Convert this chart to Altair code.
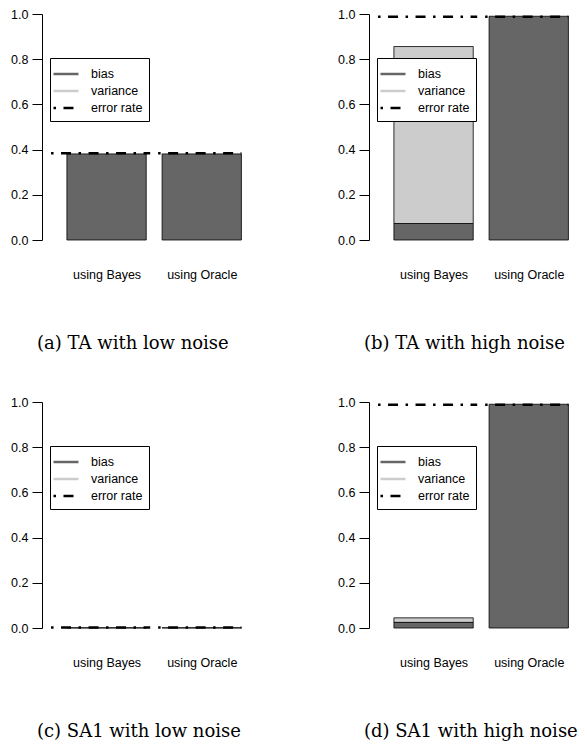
import altair as alt
import pandas as pd

# ---------------- data ----------------
methods = ["using Bayes", "using Oracle"]
panel_keys = ["a", "b", "c", "d"]
captions = ["(a) TA with low noise", "(b) TA with high noise",
            "(c) SA1 with low noise", "(d) SA1 with high noise"]

bias_a = [0.381, 0.381]
variance_a = [0.0, 0.0]
error_a = [0.384, 0.384]

bias_b = [0.073, 0.990]
variance_b = [0.783, 0.0]
error_b = [0.988, 0.988]

bias_c = [0.001, 0.001]
variance_c = [0.0, 0.0]
error_c = [0.002, 0.002]

bias_d = [0.025, 0.990]
variance_d = [0.020, 0.0]
error_d = [0.988, 0.988]

components = ["bias", "variance"]
series = ["bias", "variance", "error rate"]

biases = dict(zip(panel_keys, [bias_a, bias_b, bias_c, bias_d]))
variances = dict(zip(panel_keys, [variance_a, variance_b, variance_c, variance_d]))
errors = dict(zip(panel_keys, [error_a, error_b, error_c, error_d]))

# ---------------- barplot layout (R style: width 1, space 0.2) ----------------
BAR_W, SPACE = 1.0, 0.2

bar_rows, err_rows = [], []
for key in panel_keys:
    for i, m in enumerate(methods):
        left = SPACE + i * (BAR_W + SPACE)
        right = left + BAR_W
        b, v, e = biases[key][i], variances[key][i], errors[key][i]
        bar_rows.append(dict(panel=key, method=m, component="bias",
                             x0=left, x1=right, y0=0.0, y1=b))
        if v > 0:
            bar_rows.append(dict(panel=key, method=m, component="variance",
                                 x0=left, x1=right, y0=b, y1=b + v))
        xs = left - SPACE if i == 0 else left - 0.05
        xe = right + 0.05 if i == 0 else right
        err_rows.append(dict(panel=key, method=m, series="error rate",
                             xs=xs, xe=xe, err=e))

bars_df = pd.DataFrame(bar_rows)
err_df = pd.DataFrame(err_rows)

centers = [SPACE + i * (BAR_W + SPACE) + BAR_W / 2 for i in range(len(methods))]
label_expr = f"datum.value < {(centers[0] + centers[1]) / 2} ? '{methods[0]}' : '{methods[1]}'"

SANS = "Liberation Sans"
SERIF = "DejaVu Serif"

xscale = alt.Scale(domain=[-0.114, 2.42], nice=False, zero=False)
yscale = alt.Scale(domain=[0, 1], nice=False)

xaxis = alt.Axis(values=centers, labelExpr=label_expr, domain=False, ticks=False,
                 grid=False, title=None, labelFont=SANS, labelFontSize=12.5,
                 labelColor="black", labelPadding=28)
yaxis = alt.Axis(values=[0, 0.2, 0.4, 0.6, 0.8, 1.0], format=".1f", grid=False,
                 title=None, domainColor="black", tickColor="black", tickSize=10,
                 labelPadding=4, labelFont=SANS, labelFontSize=12.5, labelColor="black")

# a horizontal line sample 3x as long as the symbol size
legend = alt.Legend(title=None, orient="none", legendX=8, legendY=44,
                    strokeColor="black", fillColor="white", padding=6,
                    rowPadding=0, symbolType="M-1.5,0H1.5", symbolSize=278,
                    symbolStrokeWidth=2.5, labelFont=SANS, labelFontSize=12.5,
                    labelColor="black", labelOffset=15, cornerRadius=0)


def panel(key, caption):
    bars = alt.Chart(bars_df[bars_df.panel == key]).mark_rect(
        stroke="black", strokeWidth=0.8
    ).encode(
        x=alt.X("x0:Q", scale=xscale, axis=xaxis),
        x2="x1:Q",
        y=alt.Y("y0:Q", scale=yscale, axis=yaxis),
        y2="y1:Q",
        fill=alt.Fill("component:N",
                      scale=alt.Scale(domain=components, range=["#666666", "#cccccc"]),
                      legend=None),
    )
    err = alt.Chart(err_df[err_df.panel == key]).mark_rule(strokeWidth=2.5).encode(
        x=alt.X("xs:Q", scale=xscale),
        x2="xe:Q",
        y=alt.Y("err:Q", scale=yscale),
        color=alt.Color("series:N",
                        scale=alt.Scale(domain=series,
                                        range=["#666666", "#cccccc", "black"]),
                        legend=legend),
        strokeDash=alt.StrokeDash("series:N",
                                  scale=alt.Scale(domain=series,
                                                  range=[[1, 0], [1, 0], [2.5, 7.5, 10, 7.5]]),
                                  legend=legend),
    )
    return alt.layer(bars, err).properties(
        width=201, height=226,
        title=alt.TitleParams(caption, orient="bottom", anchor="start", frame="group",
                              dx=-5, font=SERIF, fontSize=18, fontWeight="normal",
                              color="black", offset=54),
    )


charts = [panel(k, c) for k, c in zip(panel_keys, captions)]

chart = alt.concat(
    *charts, columns=2, spacing=alt.RowColnumber(row=43, column=94)
).resolve_scale(
    x="independent", y="independent", color="independent",
    strokeDash="independent", fill="independent"
).resolve_legend(
    color="independent", strokeDash="independent"
).properties(
    padding={"left": 2, "top": 0, "right": 0, "bottom": 0}
).configure_view(stroke=None)

chart.save("out.html", embed_options={"renderer": "svg", "actions": False})
